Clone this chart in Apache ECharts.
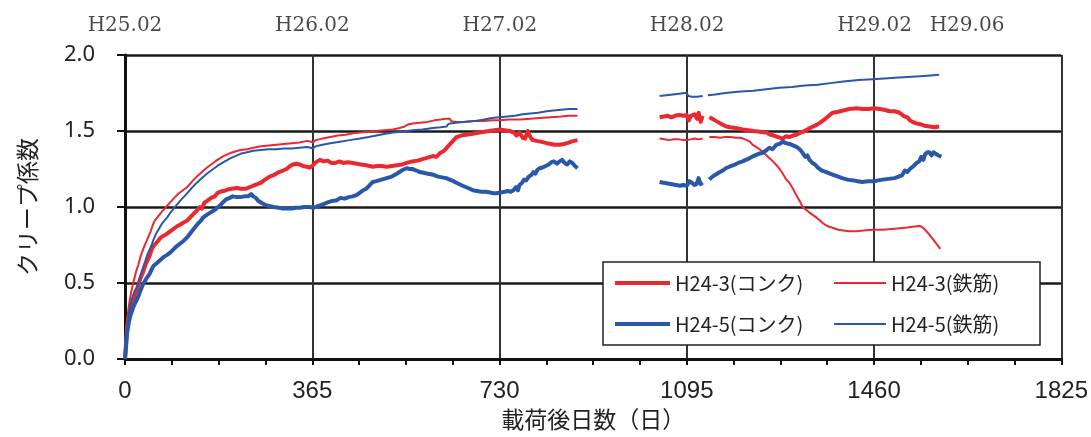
<!DOCTYPE html>
<html>
<head>
<meta charset="utf-8">
<script src="https://cdn.jsdelivr.net/npm/echarts@6/dist/echarts.min.js"></script>
<style>
  html, body { margin: 0; padding: 0; background: #fff; }
  #chart { width: 1091px; height: 437px; }
</style>
</head>
<body>
<div id="chart"></div>
<script>
// Creep coefficient vs. days after loading, two specimens (concrete / rebar gauges)
const seriesNames = ['H24-3(コンク)', 'H24-3(鉄筋)', 'H24-5(コンク)', 'H24-5(鉄筋)'];

// x-axis ticks (days) and the calendar labels shown along the top
const xTicks = [0, 365, 730, 1095, 1460, 1825];
const yTicks = [0, 0.5, 1.0, 1.5, 2.0];
const topLabelDays = [0, 365, 730, 1095, 1460, 1640];
const topLabels = ['H25.02', 'H26.02', 'H27.02', 'H28.02', 'H29.02', 'H29.06'];

// [day, creep coefficient]; null breaks the line where measurement stopped
const h243Conc = [
  [0,0],[2,0.1],[4,0.2],[6,0.25],[8,0.29],[10,0.32],[12,0.35],[14,0.37],[16,0.39],[20,0.43],[23,0.45],[27,0.5],[30,0.53],[35,0.57],[40,0.62],[44,0.65],[48,0.68],[52,0.72],[55,0.74],[60,0.76],[65,0.78],[70,0.8],[75,0.81],[80,0.82],[88,0.84],[94,0.855],[100,0.87],[108,0.885],[115,0.9],[121,0.91],[128,0.935],[135,0.96],[140,0.975],[146,1.0],[150,0.99],[155,1.03],[160,1.04],[168,1.06],[175,1.07],[180,1.09],[185,1.1],[192,1.105],[200,1.115],[208,1.12],[218,1.125],[226,1.12],[235,1.12],[243,1.13],[250,1.14],[258,1.15],[265,1.16],[273,1.18],[282,1.2],[290,1.21],[300,1.23],[308,1.24],[315,1.25],[322,1.27],[327,1.28],[334,1.285],[340,1.28],[347,1.27],[354,1.265],[360,1.26],[365,1.27],[370,1.29],[375,1.3],[380,1.31],[387,1.3],[395,1.305],[402,1.29],[410,1.29],[418,1.3],[425,1.29],[435,1.295],[444,1.29],[452,1.285],[460,1.28],[470,1.275],[483,1.265],[492,1.27],[500,1.27],[510,1.265],[520,1.27],[530,1.275],[540,1.28],[549,1.29],[560,1.3],[570,1.305],[580,1.315],[590,1.325],[600,1.335],[607,1.33],[614,1.355],[622,1.37],[630,1.4],[638,1.43],[646,1.46],[655,1.47],[665,1.475],[675,1.48],[691,1.49],[700,1.495],[710,1.5],[720,1.505],[730,1.51],[740,1.505],[750,1.5],[758,1.49],[763,1.47],[769,1.49],[775,1.455],[780,1.45],[785,1.5],[790,1.46],[795,1.44],[802,1.435],[810,1.43],[816,1.425],[822,1.42],[830,1.415],[838,1.41],[847,1.41],[855,1.415],[862,1.42],[870,1.43],[876,1.435],[882,1.44],
  [963,null],
  [1042,1.59],[1050,1.595],[1058,1.6],[1065,1.59],[1072,1.6],[1080,1.605],[1088,1.6],[1095,1.605],[1099,1.57],[1103,1.6],[1110,1.61],[1115,1.58],[1118,1.62],[1122,1.56],[1126,1.6],
  [1131,null],
  [1139,1.59],[1145,1.58],[1150,1.57],[1155,1.56],[1160,1.55],[1166,1.54],[1172,1.53],[1180,1.525],[1190,1.52],[1197,1.515],[1204,1.51],[1215,1.505],[1225,1.5],[1237,1.495],[1250,1.49],[1258,1.475],[1265,1.47],[1273,1.46],[1282,1.45],[1288,1.465],[1295,1.46],[1302,1.47],[1309,1.475],[1317,1.49],[1325,1.5],[1335,1.52],[1348,1.54],[1357,1.56],[1365,1.58],[1372,1.6],[1379,1.62],[1388,1.625],[1400,1.635],[1412,1.645],[1426,1.65],[1438,1.645],[1450,1.645],[1460,1.65],[1471,1.645],[1480,1.64],[1490,1.63],[1500,1.63],[1510,1.62],[1517,1.6],[1525,1.59],[1530,1.57],[1535,1.56],[1542,1.55],[1550,1.545],[1558,1.535],[1568,1.53],[1578,1.525],[1587,1.53]
];

const h243Steel = [
  [0,0],[2,0.14],[4,0.26],[6,0.31],[8,0.36],[10,0.4],[12,0.44],[16,0.5],[19,0.54],[22,0.58],[26,0.62],[30,0.67],[35,0.72],[40,0.76],[45,0.8],[50,0.84],[54,0.88],[58,0.91],[65,0.94],[72,0.97],[80,1.0],[88,1.03],[96,1.06],[105,1.09],[113,1.11],[121,1.13],[130,1.165],[140,1.2],[150,1.23],[160,1.26],[170,1.285],[180,1.31],[192,1.335],[205,1.355],[215,1.365],[225,1.375],[238,1.38],[250,1.39],[265,1.4],[280,1.405],[295,1.41],[310,1.415],[325,1.42],[340,1.425],[355,1.435],[362,1.43],[366,1.425],[372,1.44],[385,1.45],[400,1.46],[415,1.47],[430,1.475],[445,1.485],[458,1.49],[475,1.495],[490,1.5],[505,1.505],[522,1.51],[535,1.52],[545,1.53],[553,1.545],[561,1.55],[575,1.555],[590,1.56],[603,1.57],[615,1.575],[625,1.58],[633,1.58],[636,1.565],[645,1.56],[660,1.56],[680,1.565],[700,1.565],[715,1.57],[730,1.57],[750,1.575],[770,1.575],[790,1.58],[808,1.585],[830,1.59],[850,1.595],[865,1.6],[882,1.6],
  [963,null],
  [1042,1.45],[1052,1.445],[1060,1.44],[1070,1.445],[1080,1.445],[1088,1.44],[1095,1.44],[1103,1.445],[1110,1.45],[1118,1.445],[1126,1.45],
  [1131,null],
  [1139,1.46],[1150,1.46],[1160,1.455],[1170,1.46],[1180,1.46],[1190,1.455],[1198,1.455],[1205,1.45],[1212,1.44],[1218,1.43],[1223,1.41],[1230,1.395],[1237,1.38],[1244,1.36],[1250,1.34],[1260,1.31],[1270,1.275],[1276,1.25],[1282,1.22],[1289,1.18],[1295,1.16],[1302,1.12],[1308,1.08],[1315,1.04],[1321,1.0],[1328,0.98],[1335,0.96],[1342,0.945],[1348,0.93],[1355,0.91],[1360,0.895],[1366,0.88],[1373,0.87],[1382,0.86],[1390,0.85],[1400,0.845],[1412,0.84],[1425,0.84],[1440,0.845],[1457,0.85],[1477,0.85],[1495,0.855],[1510,0.86],[1525,0.865],[1535,0.87],[1548,0.875],[1553,0.87],[1558,0.855],[1565,0.83],[1572,0.8],[1580,0.765],[1589,0.725]
];

const h245Conc = [
  [0,0],[2,0.08],[4,0.17],[6,0.21],[8,0.25],[10,0.28],[12,0.3],[14,0.32],[16,0.34],[20,0.37],[23,0.39],[27,0.42],[30,0.45],[35,0.49],[40,0.52],[44,0.54],[48,0.56],[52,0.59],[55,0.61],[60,0.625],[65,0.64],[70,0.655],[75,0.67],[82,0.685],[88,0.7],[94,0.72],[100,0.74],[108,0.76],[115,0.78],[121,0.8],[128,0.83],[135,0.86],[142,0.89],[148,0.91],[152,0.93],[160,0.95],[170,0.97],[178,0.99],[185,1.01],[191,1.03],[197,1.05],[204,1.06],[210,1.07],[218,1.065],[225,1.065],[233,1.07],[240,1.07],[246,1.085],[250,1.07],[255,1.06],[260,1.04],[265,1.03],[270,1.02],[276,1.01],[283,1.005],[290,1.0],[300,0.995],[308,0.99],[315,0.99],[325,0.99],[333,0.995],[340,0.995],[350,1.0],[360,1.0],[368,0.995],[375,1.005],[380,1.01],[388,1.02],[395,1.03],[404,1.04],[413,1.045],[420,1.06],[428,1.055],[436,1.065],[444,1.07],[452,1.08],[458,1.095],[464,1.11],[470,1.12],[476,1.14],[483,1.165],[490,1.17],[500,1.18],[510,1.19],[520,1.2],[528,1.215],[535,1.23],[542,1.245],[549,1.255],[555,1.25],[560,1.25],[568,1.24],[575,1.23],[582,1.225],[588,1.22],[596,1.215],[603,1.21],[610,1.2],[618,1.195],[626,1.19],[633,1.18],[640,1.17],[646,1.16],[652,1.15],[658,1.14],[665,1.13],[672,1.12],[678,1.11],[686,1.105],[694,1.1],[703,1.1],[712,1.095],[718,1.09],[724,1.09],[732,1.095],[740,1.1],[746,1.105],[752,1.1],[757,1.11],[762,1.13],[766,1.11],[769,1.145],[774,1.16],[778,1.18],[782,1.175],[787,1.2],[792,1.21],[796,1.23],[800,1.22],[804,1.245],[808,1.255],[814,1.26],[820,1.27],[826,1.28],[831,1.295],[836,1.3],[842,1.285],[847,1.3],[852,1.31],[857,1.29],[862,1.28],[867,1.3],[872,1.29],[877,1.27],[882,1.255],
  [963,null],
  [1042,1.165],[1050,1.16],[1058,1.155],[1066,1.15],[1074,1.145],[1082,1.14],[1088,1.145],[1095,1.14],[1100,1.17],[1105,1.16],[1110,1.145],[1114,1.15],[1118,1.19],[1122,1.15],[1126,1.16],
  [1131,null],
  [1139,1.18],[1145,1.2],[1150,1.21],[1157,1.225],[1165,1.24],[1171,1.255],[1178,1.265],[1186,1.275],[1195,1.29],[1204,1.3],[1210,1.31],[1217,1.32],[1225,1.335],[1235,1.35],[1242,1.355],[1249,1.37],[1256,1.39],[1262,1.38],[1270,1.41],[1276,1.415],[1282,1.43],[1288,1.42],[1295,1.415],[1302,1.405],[1309,1.395],[1315,1.38],[1320,1.36],[1326,1.33],[1330,1.34],[1334,1.31],[1340,1.29],[1345,1.28],[1350,1.26],[1358,1.24],[1367,1.23],[1374,1.22],[1382,1.21],[1390,1.2],[1398,1.19],[1408,1.18],[1420,1.175],[1428,1.17],[1437,1.165],[1448,1.17],[1460,1.17],[1468,1.175],[1477,1.18],[1488,1.185],[1500,1.19],[1508,1.2],[1515,1.21],[1520,1.24],[1525,1.23],[1530,1.25],[1537,1.27],[1543,1.29],[1548,1.3],[1552,1.33],[1556,1.31],[1560,1.35],[1564,1.36],[1568,1.36],[1572,1.34],[1576,1.36],[1580,1.35],[1585,1.34],[1591,1.33]
];

const h245Steel = [
  [0,0],[2,0.11],[4,0.2],[6,0.26],[8,0.3],[10,0.34],[12,0.38],[16,0.42],[19,0.45],[23,0.47],[27,0.51],[30,0.55],[35,0.6],[40,0.65],[44,0.69],[48,0.72],[52,0.75],[55,0.78],[60,0.82],[65,0.85],[72,0.89],[82,0.93],[90,0.97],[100,1.01],[110,1.05],[121,1.09],[130,1.125],[140,1.16],[150,1.19],[160,1.22],[170,1.245],[180,1.27],[192,1.295],[205,1.32],[215,1.335],[225,1.35],[238,1.36],[250,1.37],[265,1.375],[280,1.38],[295,1.38],[310,1.385],[325,1.385],[340,1.39],[355,1.395],[362,1.39],[366,1.385],[372,1.4],[385,1.41],[400,1.42],[419,1.43],[438,1.44],[458,1.45],[475,1.46],[490,1.47],[505,1.48],[522,1.49],[540,1.495],[560,1.505],[580,1.51],[600,1.52],[615,1.525],[627,1.53],[630,1.545],[634,1.55],[645,1.555],[660,1.56],[680,1.565],[700,1.575],[715,1.585],[730,1.59],[745,1.595],[760,1.6],[775,1.61],[790,1.615],[805,1.62],[822,1.63],[835,1.635],[850,1.64],[865,1.645],[882,1.645],
  [963,null],
  [1042,1.73],[1055,1.735],[1068,1.74],[1080,1.745],[1090,1.75],[1095,1.75],[1098,1.73],[1105,1.725],[1115,1.725],[1126,1.73],
  [1131,null],
  [1136,1.735],[1150,1.74],[1170,1.75],[1200,1.76],[1225,1.765],[1250,1.775],[1275,1.785],[1300,1.79],[1325,1.8],[1350,1.805],[1375,1.815],[1400,1.825],[1430,1.835],[1457,1.84],[1480,1.845],[1500,1.85],[1525,1.855],[1550,1.86],[1570,1.865],[1587,1.87]
];

const RED = '#EB2830';
const BLUE = '#2A58A8';
const INK = '#222';

const chart = echarts.init(document.getElementById('chart'), null, { renderer: 'canvas' });

function lineSeries(name, data, color, width) {
  return {
    name, type: 'line', data, xAxisIndex: 0, yAxisIndex: 0,
    showSymbol: false, symbol: 'none', connectNulls: false,
    lineStyle: { color, width, join: 'round' },
    itemStyle: { color },
    emphasis: { disabled: true }, animation: false
  };
}

const legendText = { fontFamily: 'Noto Sans CJK JP', fontSize: 20, color: INK, lineHeight: 22 };

chart.setOption({
  animation: false,
  backgroundColor: '#fff',
  grid: [
    { left: 125, right: 29, top: 55, bottom: 78 },
    { left: 125, right: 29, top: 6, height: 40 }
  ],
  xAxis: [
    {
      type: 'value', gridIndex: 0, min: xTicks[0], max: xTicks[xTicks.length - 1], interval: 365,
      name: '載荷後日数（日）', nameLocation: 'middle', nameGap: 48,
      nameTextStyle: { fontFamily: 'Noto Sans CJK JP', fontSize: 23, color: INK },
      axisLine: { show: true, onZero: false, lineStyle: { color: '#111', width: 3 } },
      axisTick: { show: true, inside: false, length: 6, lineStyle: { color: '#111', width: 2 } },
      minorTick: { show: true, splitNumber: 4, length: 6, lineStyle: { color: '#111', width: 2 } },
      axisLabel: {
        margin: 20, fontFamily: 'Liberation Sans Narrow, Liberation Sans, sans-serif', fontSize: 24, color: INK,
        formatter: v => String(v)
      },
      splitLine: { show: true, lineStyle: { color: '#333', width: 2 } }
    },
    { type: 'value', gridIndex: 1, min: 0, max: 1825, show: false }
  ],
  yAxis: [
    {
      type: 'value', gridIndex: 0, min: yTicks[0], max: yTicks[yTicks.length - 1], interval: 0.5,
      name: 'クリープ係数', nameLocation: 'middle', nameGap: 86,
      nameTextStyle: { fontFamily: 'Noto Sans CJK JP', fontSize: 23, color: INK },
      axisLine: { show: true, lineStyle: { color: '#111', width: 3 } },
      axisTick: { show: true, inside: false, length: 8, lineStyle: { color: '#111', width: 2 } },
      axisLabel: { margin: 30, fontFamily: 'Noto Sans', fontSize: 22, color: INK, formatter: v => v.toFixed(1) },
      splitLine: { show: true, lineStyle: { color: '#1a1a1a', width: 2.5 } }
    },
    { type: 'value', gridIndex: 1, min: 0, max: 1, show: false }
  ],
  legend: [
    {
      data: [seriesNames[0], seriesNames[2]], orient: 'vertical', left: 615, top: 272,
      padding: 0, itemGap: 19, itemWidth: 55, itemHeight: 4, icon: 'rect',
      textStyle: legendText, selectedMode: false, z: 10
    },
    {
      data: [seriesNames[1], seriesNames[3]], orient: 'vertical', left: 834, top: 272,
      padding: 0, itemGap: 19, itemWidth: 52, itemHeight: 2, icon: 'rect',
      textStyle: legendText, selectedMode: false, z: 10
    }
  ],
  graphic: [
    {
      type: 'rect', z: 5, silent: true,
      shape: { x: 603, y: 262, width: 437, height: 83 },
      style: { fill: '#fff', stroke: '#222', lineWidth: 1.5 }
    }
  ],
  series: [
    lineSeries(seriesNames[0], h243Conc, RED, 4),
    lineSeries(seriesNames[1], h243Steel, RED, 2),
    lineSeries(seriesNames[2], h245Conc, BLUE, 4),
    lineSeries(seriesNames[3], h245Steel, BLUE, 2),
    {
      type: 'scatter', xAxisIndex: 1, yAxisIndex: 1, symbolSize: 0, silent: true,
      data: topLabelDays.map((d, i) => ({ value: [d, 0.5], name: topLabels[i] })),
      label: {
        show: true, position: 'inside', formatter: p => p.name,
        fontFamily: 'DejaVu Serif', fontSize: 20, color: '#1a1a1a'
      }
    }
  ]
});
</script>
</body>
</html>
